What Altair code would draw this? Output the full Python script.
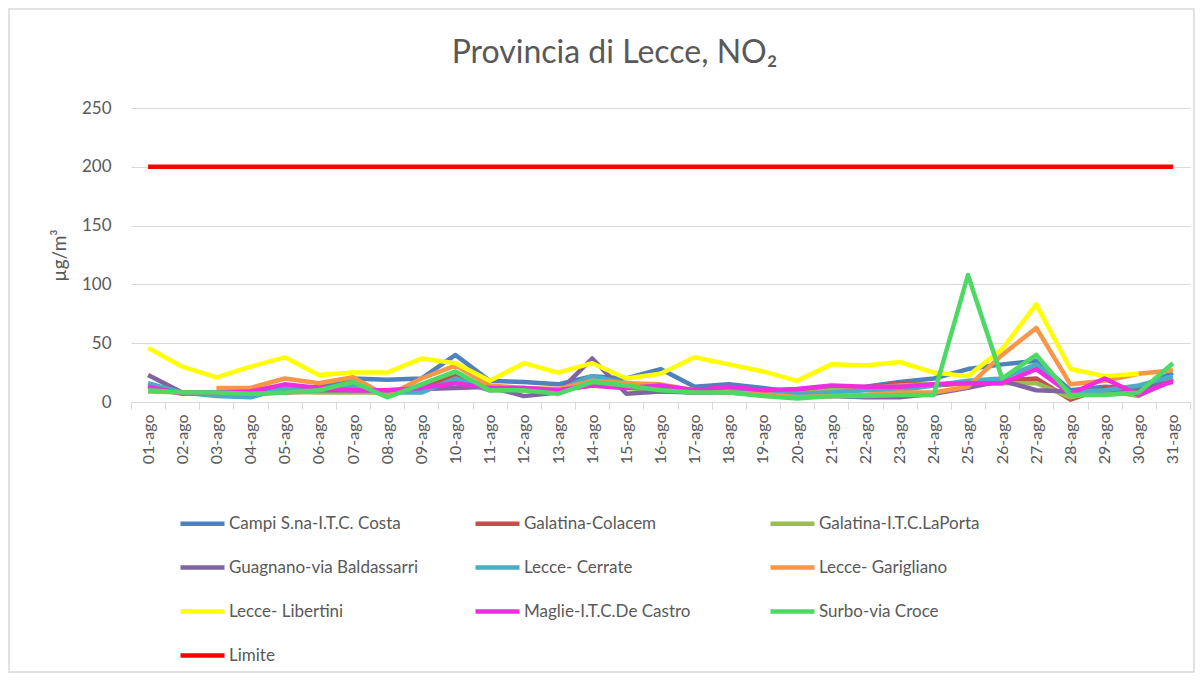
import altair as alt
import pandas as pd

days = ["01-ago", "02-ago", "03-ago", "04-ago", "05-ago", "06-ago", "07-ago", "08-ago",
        "09-ago", "10-ago", "11-ago", "12-ago", "13-ago", "14-ago", "15-ago", "16-ago",
        "17-ago", "18-ago", "19-ago", "20-ago", "21-ago", "22-ago", "23-ago", "24-ago",
        "25-ago", "26-ago", "27-ago", "28-ago", "29-ago", "30-ago", "31-ago"]

campi = [14, 8, 8, 8, 10, 13, 20, 19, 20, 40, 18, 17, 15, 22, 20, 28, 13, 15, 12, 8, 11, 13, 17, 20, 28, 32, 35, 10, 13, 12, 25]
colacem = [10, 8, 7, 7, 8, 9, 9, 8, 12, 22, 12, 10, 10, 15, 14, 10, 8, 10, 10, 9, 10, 12, 16, 14, 16, 18, 20, 2, 12, 10, 20]
laporta = [9, 8, 7, 7, 9, 8, 8, 8, 10, 18, 10, 10, 10, 14, 12, 10, 8, 9, 8, 7, 10, 12, 14, 15, 16, 16, 16, 4, 10, 5, 20]
guagnano = [23, 8, 7, 8, 10, 10, 10, 10, 11, 12, 13, 5, 8, 37, 7, 9, 8, 8, 6, 4, 5, 4, 4, 7, 12, 18, 10, 9, 10, 12, 17]
cerrate = [16, 8, 5, 4, 12, 10, 14, 8, 8, 20, 10, 12, 10, 22, 16, 12, 10, 10, 8, 7, 8, 10, 10, 14, 18, 20, 32, 8, 10, 14, 22]
garigliano = [None, None, 12, 12, 20, 16, 21, 5, 20, 31, 14, 12, 11, 18, 16, 15, 10, 8, 7, 4, 5, 6, 8, 8, 13, 40, 63, 15, 18, 24, 27]
libertini = [46, 30, 21, 30, 38, 23, 25, 25, 37, 33, 18, 33, 25, 33, 20, 24, 38, 32, 26, 18, 32, 31, 34, 25, 22, 45, 83, 28, 22, 24, None]
maglie = [13, 7, 8, 9, 15, 12, 10, 10, 12, 16, 12, 12, 10, 14, 12, 14, 10, 13, 10, 11, 14, 13, 13, 15, 16, 16, 28, 7, 20, 6, 18]
surbo = [10, 8, 8, 7, 8, 10, 17, 4, 15, 26, 10, 10, 7, 17, 14, 10, 8, 8, 5, 3, 5, 5, 6, 6, 108, 20, 40, 6, 6, 8, 33]
limite = [200] * 31

series_names = ["Campi S.na-I.T.C. Costa", "Galatina-Colacem", "Galatina-I.T.C.LaPorta",
                "Guagnano-via Baldassarri", "Lecce- Cerrate", "Lecce- Garigliano",
                "Lecce- Libertini", "Maglie-I.T.C.De Castro", "Surbo-via Croce", "Limite"]
series_values = [campi, colacem, laporta, guagnano, cerrate, garigliano, libertini, maglie, surbo, limite]
colors = ["#4F81BD", "#C0504D", "#9BBB59", "#8064A2", "#4BACC6", "#F79646",
          "#FFFF00", "#F02CE0", "#4CD964", "#FF0000"]

rows = []
for k, (name, vals) in enumerate(zip(series_names, series_values)):
    for d, v in zip(days, vals):
        if v is not None:
            rows.append({"giorno": d, "valore": v, "serie": name, "ordine": k})
df = pd.DataFrame(rows)

FONT = "Lato"
GRAY = "#595959"
GRID = "#d9d9d9"

lines = alt.Chart(df).mark_line(strokeWidth=4.5, strokeJoin="round").encode(
    x=alt.X("giorno:N", sort=days,
            scale=alt.Scale(type="band", domain=days, paddingInner=0, paddingOuter=0),
            axis=alt.Axis(title=None, labelAngle=-90, labelAlign="right", labelBaseline="middle",
                          labelFontSize=16, labelColor=GRAY, labelFont=FONT, labelPadding=5,
                          tickBand="extent", ticks=True, tickSize=7, tickColor=GRID,
                          domainColor=GRID, grid=False)),
    y=alt.Y("valore:Q", scale=alt.Scale(domain=[0, 250], nice=False),
            axis=alt.Axis(title="µg/m³", values=[0, 50, 100, 150, 200, 250],
                          labelFontSize=17, labelColor=GRAY, labelFont=FONT, labelPadding=20,
                          titleFontSize=19, titleColor=GRAY, titleFont=FONT, titleFontWeight="normal",
                          titlePadding=12, domain=False, ticks=False, gridColor=GRID)),
    color=alt.Color("serie:N", sort=series_names,
                    scale=alt.Scale(domain=series_names, range=colors),
                    legend=alt.Legend(orient="none", legendX=47, legendY=391, columns=3,
                                      direction="horizontal",
                                      title=None, symbolType="stroke", symbolSize=1936,
                                      symbolStrokeWidth=4.5, labelFontSize=17, labelColor=GRAY,
                                      labelFont=FONT, labelOffset=2, gridAlign="all",
                                      columnPadding=48, rowPadding=10, padding=0, labelLimit=400)),
    order=alt.Order("ordine:Q"),
    detail="serie:N",
)

border = alt.Chart(pd.DataFrame({"a": [0]})).mark_rect(
    fillOpacity=0, stroke=GRID, strokeWidth=1.5).encode(
    x=alt.value(-122), x2=alt.value(1063), y=alt.value(-99), y2=alt.value(564))

chart = alt.layer(border, lines).properties(
    width=1059, height=294,
    title=alt.TitleParams("Provincia di Lecce, NO₂", fontSize=32, font=FONT, color=GRAY,
                          fontWeight="normal", anchor="middle", dx=-46, offset=-62),
    padding={"left": 123, "top": 100, "right": 5, "bottom": 271},
    autosize=alt.AutoSizeParams(type="none"),
).configure_view(stroke=None)

chart.save("out.html", embed_options={"renderer": "svg", "actions": False})
